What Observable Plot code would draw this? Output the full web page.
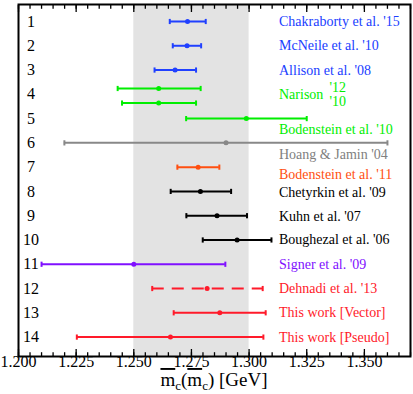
<!DOCTYPE html>
<html><head><meta charset="utf-8">
<script src="https://cdn.jsdelivr.net/npm/d3@7"></script>
<script src="https://cdn.jsdelivr.net/npm/@observablehq/plot@0.6"></script>
<style>html,body{margin:0;padding:0;background:#fff}</style>
</head><body><div id="chart"></div>
<script>
// ---- data ----
const rowNumbers = [1,2,3,4,5,6,7,8,9,10,11,12,13,14];
const rowPos   = [1, 2, 3, 3.76, 4.36, 5, 6, 7, 8, 9, 10, 11, 12, 13, 14];
const central  = [1.2733, 1.2731, 1.2679, 1.2608, 1.2608, 1.2988, 1.2900, 1.2779, 1.2789, 1.2861, 1.2948, 1.2500, 1.2818, 1.2873, 1.2659];
const lower    = [1.2656, 1.2669, 1.2590, 1.2430, 1.2449, 1.2727, 1.2199, 1.2689, 1.2660, 1.2728, 1.2799, 1.2100, 1.2580, 1.2673, 1.2253];
const upper    = [1.2812, 1.2792, 1.2770, 1.2790, 1.2770, 1.3250, 1.3600, 1.2871, 1.2922, 1.2991, 1.3097, 1.2897, 1.3059, 1.3072, 1.3062];
const group    = ["lattice","lattice","lattice","narison","narison","narison","hoang","bod11","black","black","black","signer","red","red","red"];
const dashed   = [false,false,false,false,false,false,false,false,false,false,false,false,true,false,false];

const labelText  = ["Chakraborty et al. '15","McNeile et al. '10","Allison et al. '08","Narison","Bodenstein et al. '10","Hoang & Jamin '04","Bodenstein et al. '11","Chetyrkin et al. '09","Kuhn et al. '07","Boughezal et al. '06","Signer et al. '09","Dehnadi et al. '13","This work [Vector]","This work [Pseudo]"];
const labelPos   = [1, 2, 3, 4, 5.45, 6.48, 7.3, 8.04, 9.03, 10, 11, 12, 13, 14];
const labelGroup = ["lattice","lattice","lattice","narison","narison","hoang","bod11","black","black","black","signer","red","red","red"];
const narisonYears   = ["'12","'10"];
const narisonYearPos = [3.72, 4.3];

const majorTicks = [1.200, 1.225, 1.250, 1.275, 1.300, 1.325, 1.350];
const majorTickLabels = ["1.200","1.225","1.250","1.275","1.300","1.325","1.350"];
const band = [{lo: 1.25, hi: 1.30}];

const palette = {lattice:"#2040ff", narison:"#00ee00", hoang:"#888888", bod11:"#ff4f10", black:"#000000", signer:"#8010ff", red:"#ff1a2a"};
const labelPalette = {lattice:"#2040ff", narison:"#00ee00", hoang:"#808080", bod11:"#ff4f10", black:"#000000", signer:"#8010ff", red:"#ff1a2a"};

// ---- tables ----
const bars = central.map((c, i) => ({c, lo: lower[i], hi: upper[i], y: rowPos[i], color: palette[group[i]], dashed: dashed[i]}));
const labels = labelText.map((t, i) => ({t, y: labelPos[i], color: labelPalette[labelGroup[i]]}));
const years = narisonYears.map((t, i) => ({t, y: narisonYearPos[i]}));

const serif = "'Liberation Serif', 'Times New Roman', serif";
const cap = {draw(ctx, size) { const r = Math.sqrt(size / Math.PI); ctx.moveTo(0, -r); ctx.lineTo(0, r); }};

const plot = Plot.plot({
  width: 413, height: 394,
  marginLeft: 18, marginRight: 3, marginTop: 4, marginBottom: 38,
  style: {fontFamily: serif, fontSize: "16px", background: "#fff", color: "#000"},
  x: {domain: [1.2, 1.37]},
  y: {domain: [14.8, 0.3], axis: null},
  color: {type: "identity"},
  marks: [
    Plot.rect(band, {x1: "lo", x2: "hi", fill: "#e3e3e3"}),
    Plot.ruleY(bars.filter(d => !d.dashed), {y: "y", x1: "lo", x2: "hi", stroke: "color", strokeWidth: 2}),
    Plot.ruleY(bars.filter(d => d.dashed), {y: "y", x1: "lo", x2: "hi", stroke: "color", strokeWidth: 2, strokeDasharray: "12,8"}),
    Plot.dot(bars, {x: "lo", y: "y", symbol: cap, r: 2.6, fill: "none", stroke: "color", strokeWidth: 2}),
    Plot.dot(bars, {x: "hi", y: "y", symbol: cap, r: 2.6, fill: "none", stroke: "color", strokeWidth: 2}),
    Plot.dot(bars, {x: "c", y: "y", r: 2.5, fill: "color", stroke: "none"}),
    Plot.text(labels, {y: "y", text: "t", fill: "color", frameAnchor: "right", dx: -131.5, textAnchor: "start", fontSize: 14, fontFamily: serif}),
    Plot.text(years, {y: "y", text: "t", fill: labelPalette.narison, frameAnchor: "right", dx: -81, textAnchor: "start", fontSize: 14, fontFamily: serif}),
    Plot.text(rowNumbers, {y: d => d, text: d => String(d), frameAnchor: "left", dx: 12.5, textAnchor: "middle", fontSize: 16, fontFamily: serif}),
    Plot.axisX({anchor: "bottom", ticks: majorTicks, tickSize: 0, tickPadding: -1, tickFormat: d => majorTickLabels[majorTicks.indexOf(d)], fontSize: 16, fontFamily: serif, label: null}),
    Plot.axisX({anchor: "bottom", ticks: majorTicks, tickSize: -7, fill: "none", strokeWidth: 1.3}),
    Plot.axisX({anchor: "bottom", ticks: 34, tickSize: -3.8, fill: "none", strokeWidth: 1.3}),
    Plot.axisX({anchor: "top", ticks: majorTicks, tickSize: -7, fill: "none", strokeWidth: 1.3}),
    Plot.axisX({anchor: "top", ticks: 34, tickSize: -3.8, fill: "none", strokeWidth: 1.3}),
    Plot.frame({stroke: "#000", strokeWidth: 2})
  ]
});

// axis title with overlines and subscripts
const t = d3.select(plot).append("text")
  .attr("x", 214).attr("y", 386)
  .attr("text-anchor", "middle")
  .attr("font-size", 19)
  .attr("font-family", serif)
  .attr("fill", "#000");
t.append("tspan").style("text-decoration", "overline").text("m");
t.append("tspan").attr("font-size", 13).attr("dy", 4).text("c");
t.append("tspan").attr("dy", -4).text("(");
t.append("tspan").style("text-decoration", "overline").text("m");
t.append("tspan").attr("font-size", 13).attr("dy", 4).text("c");
t.append("tspan").attr("dy", -4).text(") [GeV]");

document.getElementById("chart").append(plot);
</script>
</body></html>
